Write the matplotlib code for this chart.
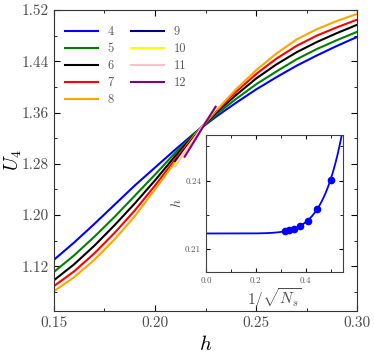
import numpy as np
import matplotlib
matplotlib.use('Agg')
import matplotlib.pyplot as plt
from matplotlib.ticker import MultipleLocator, FormatStrFormatter

plt.rcParams['font.family'] = 'serif'
plt.rcParams['font.serif'] = ['cmr10', 'DejaVu Serif']
plt.rcParams['mathtext.fontset'] = 'cm'
plt.rcParams['axes.formatter.use_mathtext'] = True

# main panel: Binder cumulant U4 vs h for system sizes N
h = [0.15, 0.16, 0.17, 0.18, 0.19, 0.20, 0.21, 0.22,
     0.23, 0.24, 0.25, 0.26, 0.27, 0.28, 0.29, 0.30]
u4_n4 = [1.130, 1.157, 1.186, 1.216, 1.246, 1.274, 1.302, 1.329,
         1.353, 1.375, 1.396, 1.415, 1.433, 1.449, 1.464, 1.478]
u4_n5 = [1.111, 1.137, 1.166, 1.197, 1.230, 1.263, 1.297, 1.328,
         1.356, 1.381, 1.404, 1.424, 1.443, 1.459, 1.473, 1.486]
u4_n6 = [1.098, 1.123, 1.152, 1.184, 1.218, 1.254, 1.292, 1.327,
         1.359, 1.387, 1.413, 1.435, 1.454, 1.470, 1.484, 1.497]
u4_n7 = [1.089, 1.112, 1.140, 1.172, 1.207, 1.246, 1.287, 1.327,
         1.361, 1.392, 1.420, 1.444, 1.464, 1.480, 1.493, 1.505]
u4_n8 = [1.081, 1.103, 1.130, 1.162, 1.198, 1.240, 1.283, 1.326,
         1.362, 1.396, 1.426, 1.452, 1.474, 1.490, 1.503, 1.514]

h_short = [0.21, 0.215, 0.22, 0.225, 0.23]
u4_n9 = [1.284, 1.304, 1.324, 1.344, 1.364]
u4_n10 = [1.279, 1.301, 1.322, 1.344, 1.365]
u4_n11 = [1.276, 1.299, 1.322, 1.346, 1.369]
h_n12 = [0.2147, 0.22, 0.225, 0.230]
u4_n12 = [1.291, 1.318, 1.344, 1.369]

# inset: crossing points vs 1/sqrt(N)
n_sizes = [4, 5, 6, 7, 8, 9, 10]
h_cross = [0.2404, 0.2277, 0.2225, 0.2200, 0.2190, 0.2183, 0.2180]

fig = plt.figure(figsize=(3.74, 3.58), dpi=100)
ax = fig.add_axes([0.144, 0.131, 0.811, 0.841])

lw = 1.5
ax.plot(h, u4_n4, color='#0000ff', lw=lw, label='4')
ax.plot(h, u4_n5, color='#008000', lw=lw, label='5')
ax.plot(h, u4_n6, color='black', lw=lw, label='6')
ax.plot(h, u4_n7, color='#ff0000', lw=lw, label='7')
ax.plot(h, u4_n8, color='#ffa500', lw=lw, label='8')
ax.plot(h_short, u4_n9, color='#000080', lw=lw, label='9')
ax.plot(h_short, u4_n10, color='#ffff00', lw=lw, label='10')
ax.plot(h_short, u4_n11, color='#ffc0cb', lw=lw, label='11')
ax.plot(h_n12, u4_n12, color='#800080', lw=lw, label='12')

ax.set_xlim(0.15, 0.30)
ax.set_ylim(1.05, 1.52)
ax.xaxis.set_major_locator(MultipleLocator(0.05))
ax.xaxis.set_minor_locator(MultipleLocator(0.025))
ax.yaxis.set_minor_locator(MultipleLocator(0.04))
ax.set_yticks(np.arange(1.12, 1.53, 0.08))
ax.xaxis.set_major_formatter(FormatStrFormatter('%.2f'))
ax.yaxis.set_major_formatter(FormatStrFormatter('%.2f'))
ax.tick_params(which='both', direction='in', top=True, right=True,
               labelsize=11, labelcolor='0.3')
ax.tick_params(which='major', length=4)
ax.tick_params(which='minor', length=2.5)
for s in ax.spines.values():
    s.set_color('0.2')
ax.set_xlabel('$h$', fontsize=15)
ax.set_ylabel('$U_4$', fontsize=14)
ax.yaxis.set_label_coords(-0.10, 0.5)

ax.legend(ncol=2, frameon=False, loc='upper left', fontsize=9,
          handlelength=2.6, labelspacing=0.4, columnspacing=1.4,
          labelcolor='0.35', bbox_to_anchor=(0.0, 0.985))

# inset
ins = fig.add_axes([0.551, 0.240, 0.366, 0.383])
xs = 1 / np.sqrt(np.array(n_sizes))
hc = np.array(h_cross)
A = np.column_stack([np.ones_like(xs), xs ** 7])
coef = np.linalg.lstsq(A, hc, rcond=None)[0]
xf = np.linspace(0, 0.56, 300)
ins.plot(xf, coef[0] + coef[1] * xf ** 7, color='#0000ff', lw=1.3)
ins.plot(xs, hc, 'o', color='#0000ff', ms=4.5)
ins.set_xlim(0, 0.55)
ins.set_ylim(0.20, 0.26)
ins.xaxis.set_major_locator(MultipleLocator(0.2))
ins.xaxis.set_minor_locator(MultipleLocator(0.1))
ins.set_yticks([0.21, 0.24])
ins.yaxis.set_minor_locator(MultipleLocator(0.015))
ins.xaxis.set_major_formatter(FormatStrFormatter('%.1f'))
ins.yaxis.set_major_formatter(FormatStrFormatter('%.2f'))
ins.tick_params(which='both', direction='in', top=True, right=True,
                labelsize=6.5, labelcolor='0.35')
ins.tick_params(which='major', length=3)
ins.tick_params(which='minor', length=2)
for s in ins.spines.values():
    s.set_color('0.25')
ins.set_xlabel(r'$1/\sqrt{N_s}$', fontsize=11, labelpad=1, color='0.3')
ins.set_ylabel('$h$', fontsize=10, labelpad=1, color='0.3')

fig.savefig('out.png', dpi=100)
